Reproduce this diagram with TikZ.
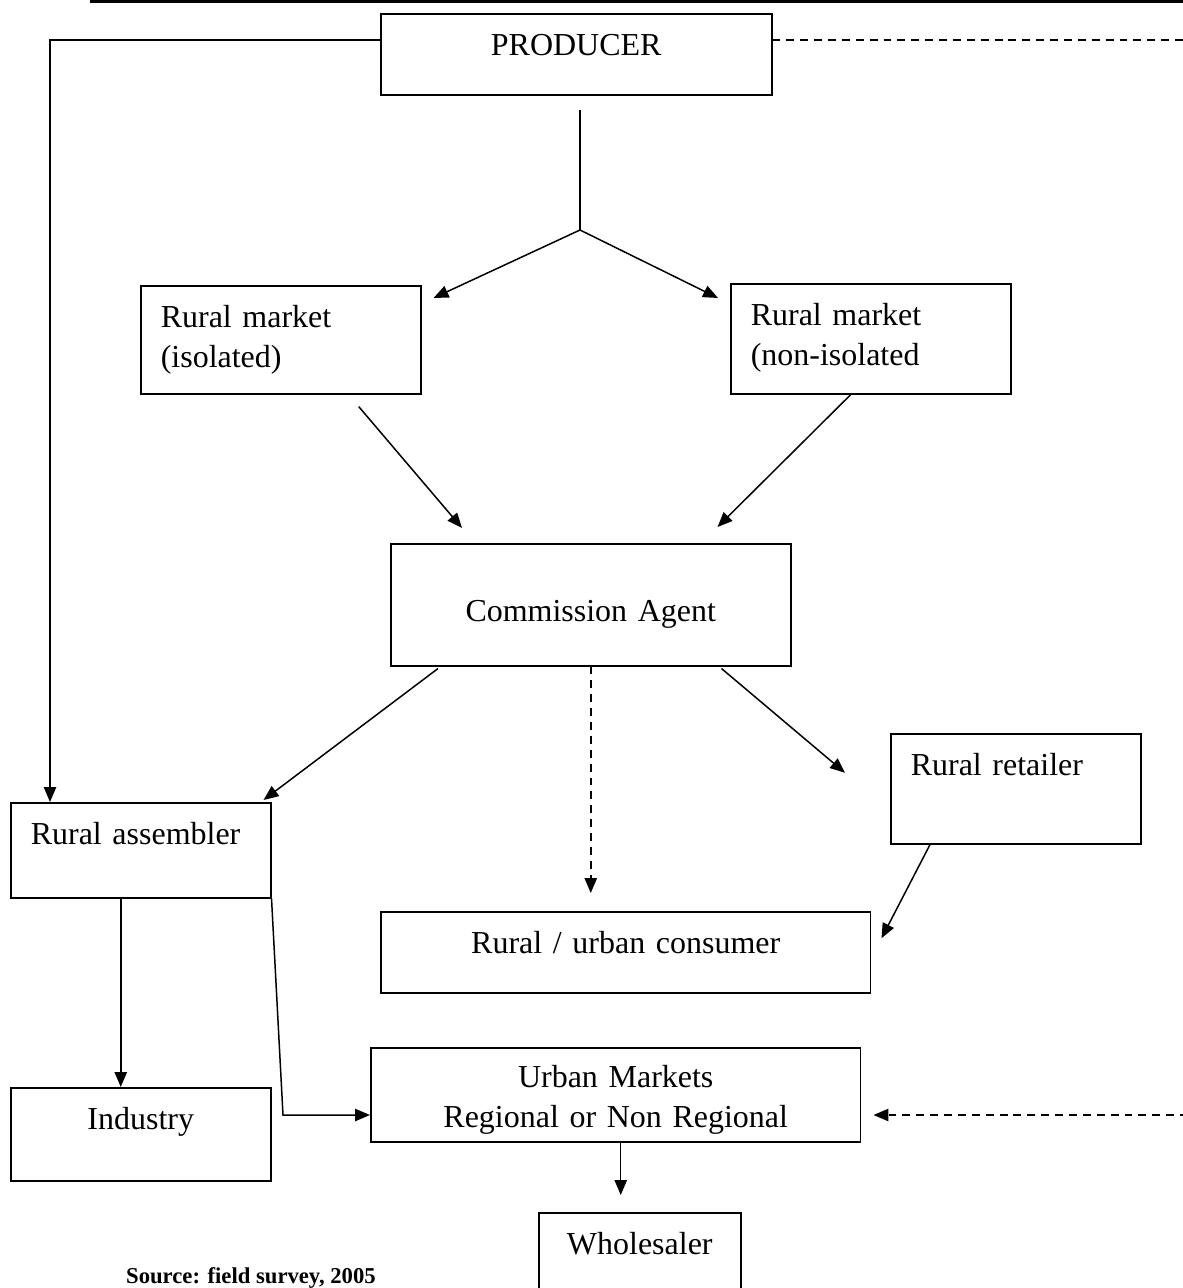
\documentclass[tikz,border=0pt]{standalone}
\usepackage{fontspec}
\setmainfont{Liberation Serif}
\usetikzlibrary{arrows.meta,calc}

\begin{document}
\begin{tikzpicture}[
    x=0.02cm, y=-0.02cm,
    box/.style={draw, line width=0.9pt, anchor=north west, inner xsep=0.4cm, inner ysep=10pt, text height=14pt, font=\fontsize{18.2}{22.5}\selectfont},
    arrow/.style={-{Triangle[length=8.5pt,width=7pt]}, line width=0.85pt},
    link/.style={line width=0.85pt},
    dashline/.style={dash pattern=on 4.5pt off 3.4pt}
]
    \useasboundingbox (0,0) rectangle (1183,1288);
    \clip (0,0) rectangle (1183,1288);

    % rule at the top of the page
    \draw[line width=1.7pt] (90,1.5) -- (1183,1.5);

    % Boxes
    \node[box, text width=7.02cm, align=center, text depth=12.1pt] (producer) at (380,13) {PRODUCER};
    \node[box, text width=4.8cm, align=left, text depth=27.5pt] (ruraliso) at (140,285) {Rural market\\(isolated)};
    \node[box, text width=4.8cm, align=left, text depth=28.6pt] (ruralnon) at (730,283) {Rural market\\(non-isolated};
    \node[box, text width=7.2cm, align=center, text height=34pt, text depth=15.4pt] (agent) at (390,543) {Commission Agent};
    \node[box, text width=4.2cm, align=left, text depth=28.6pt] (retailer) at (890,733) {Rural retailer};
    \node[box, text width=4.4cm, align=left, text depth=20.1pt] (assembler) at (10,802) {Rural assembler};
    \node[box, text width=9cm, align=center, text depth=12.1pt] (consumer) at (380,911) {Rural / urban consumer};
    \node[box, text width=4.4cm, align=center, text depth=18.9pt] (industry) at (10,1087) {Industry};
    \node[box, text width=9cm, align=center, text height=12.8pt, text depth=20.7pt] (urban) at (370,1047) {Urban Markets\\Regional or Non Regional};
    \node[box, text width=3.24cm, align=center, text depth=16.1pt] (wholesaler) at (538,1212) {Wholesaler};

    \node[font=\fontsize{12.9}{15}\selectfont\bfseries, anchor=base west] (source) at (120,1283) {Source:  field survey, 2005};

    % Producer to the two rural markets
    \coordinate (fork) at (580,230);
    \draw[link, shorten <=0.28cm] (producer.south -| fork) -- (fork);
    \draw[arrow] (fork) -- ([shift={(12,13)}]ruraliso.north east);
    \draw[arrow] (fork) -- ([shift={(-12,15)}]ruralnon.north west);

    % Producer direct routes
    \draw[arrow] (producer.west |- 0,40) -| (assembler.north -| 50,0);
    \draw[arrow, dashline, shorten >=0.24cm] (producer.east |- 0,40) -- (1220,40) -- (1220,1115) -- (urban.east |- 0,1115);

    % Rural markets to the agent
    \draw[arrow] ([shift={(78,12)}]ruraliso.south) -- ([shift={(72,-15)}]agent.north west);
    \draw[arrow] ([shift={(-20,0)}]ruralnon.south) -- ([shift={(-74,-16)}]agent.north east);

    % Agent outlets
    \draw[arrow] ([shift={(48,2)}]agent.south west) -- ([shift={(-8,-2)}]assembler.north east);
    \draw[arrow, dashline, shorten >=0.36cm] (agent.south) -- (agent.south |- consumer.north);
    \draw[arrow] ([shift={(-70,2)}]agent.south east) -- ([shift={(-45,-16)}]retailer.west);
    \draw[arrow] ([shift={(40,0)}]retailer.south west) -- ([shift={(10,-14)}]consumer.east);

    % Assembler outlets
    \draw[arrow] ([xshift=-0.4cm]assembler.south) -- ([xshift=-0.4cm]industry.north);
    \draw[arrow] (assembler.south east) -- (283,1115) -- (urban.west |- 0,1115);

    % Urban markets to wholesaler
    \draw[arrow, shorten >=0.34cm] ([xshift=0.1cm]urban.south) -- ([xshift=0.1cm]urban.south |- wholesaler.north);
\end{tikzpicture}
\end{document}
